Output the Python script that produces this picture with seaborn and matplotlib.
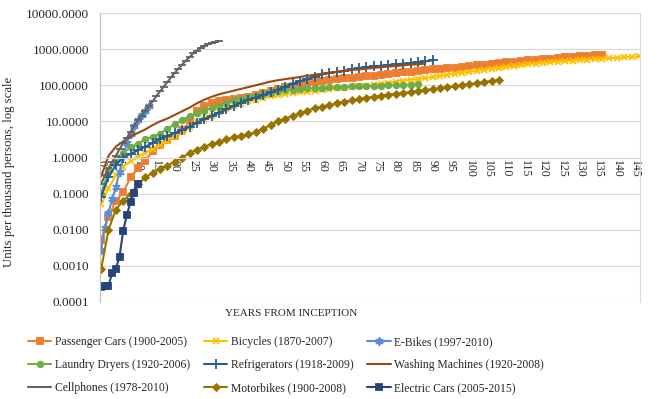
import numpy as np
import matplotlib
matplotlib.use('Agg')
import matplotlib.pyplot as plt
import seaborn as sns
from matplotlib.ticker import FixedLocator, FuncFormatter, NullLocator

# values (units per thousand persons)
# long series sampled every 2 years, short ones every year
cars = [0.0052, 0.023, 0.063, 0.11, 0.28, 0.5, 0.79, 1.48, 2.24, 3.0,
        4.0, 5.6, 10, 19, 26.3, 31.6, 35.5, 38, 40.7, 43.7,
        47.9, 53.7, 61.7, 70.8, 79.4, 89.1, 97.7, 107, 115, 123,
        132, 141, 148, 155, 162, 170, 178, 186, 195, 204,
        219, 229, 240, 251, 263, 275, 288, 295, 309, 324,
        339, 355, 372, 389, 407, 427, 447, 468, 490, 513,
        525, 550, 562, 589, 603, 631, 661, 676, 692]
bicycles = [0.05, 0.14, 0.32, 0.56, 0.79, 1.05, 1.35, 1.74, 2.24, 2.95,
            4.0, 5.2, 7.1, 9.5, 11.7, 14.5, 17.8, 21.9, 26.3, 30.2,
            35.5, 39.8, 44.7, 49, 52.5, 56.2, 60.3, 63.1, 66.1, 70.8,
            74.1, 77.6, 81.3, 85.1, 89.1, 93.3, 97.7, 102, 110, 117,
            126, 135, 141, 148, 158, 170, 182, 195, 209, 224,
            234, 251, 269, 282, 302, 316, 331, 355, 380, 398,
            417, 437, 447, 468, 479, 501, 513, 525, 537, 562,
            575, 589, 617, 631]
ebikes = [0.0028, 0.011, 0.03, 0.07, 0.15, 0.4, 1.1, 2.6, 4.5, 7.5,
          11, 15, 20, 26]
dryers = [0.1, 0.42, 0.85, 1.35, 1.9, 2.4, 3.2, 3.8, 4.6, 6.3,
          8.3, 11, 13.8, 16.6, 20, 23.4, 27.5, 32.4, 38, 42.7,
          46.8, 51.3, 56.2, 61.7, 67.6, 72.4, 75.9, 77.6, 81.3, 83.2,
          85.1, 87.1, 89.1, 91.2, 93.3, 93.3, 95.5, 95.5, 97.7, 100,
          100, 102, 102, 105]
fridges = [0.083, 0.28, 0.63, 1.0, 1.26, 1.58, 2.0, 2.5, 3.2, 4.0,
           4.8, 5.8, 7.1, 9.1, 11.5, 14.1, 17.4, 21.4, 26.9, 33.1,
           39.8, 45.7, 52.5, 63.1, 75.9, 91.2, 110, 129, 151, 174,
           200, 219, 234, 251, 275, 295, 316, 331, 347, 363,
           380, 398, 417, 427, 457, 490]
washers = [0.3, 1.1, 2.0, 2.8, 3.8, 4.8, 6.0, 7.9, 10, 12,
           15.1, 19.1, 24, 31.6, 39.8, 47.9, 56.2, 63.1, 70.8, 79.4,
           89.1, 100, 112, 126, 138, 148, 158, 170, 182, 195,
           209, 224, 234, 251, 263, 275, 288, 302, 316, 331,
           339, 355, 372, 380, 398]
cellphones = [0.18, 0.32, 0.5, 0.76, 1.1, 1.7, 2.5, 3.5, 5.2, 7.6,
              10.7, 14.5, 20, 27, 36, 50, 68, 91, 123, 166,
              219, 288, 372, 479, 603, 759, 912, 1072, 1230, 1349,
              1479, 1585, 1698]
motorbikes = [0.0008, 0.01, 0.036, 0.063, 0.1, 0.18, 0.28, 0.38, 0.48, 0.6,
              0.76, 1.0, 1.32, 1.66, 2.0, 2.34, 2.7, 3.16, 3.63, 3.98,
              4.37, 5.0, 6.3, 7.9, 10, 12, 14.1, 16.6, 20, 22.9,
              25.7, 28.2, 31.6, 34.7, 38, 41.7, 44.7, 47.9, 51.3, 55,
              58.9, 61.7, 64.6, 69.2, 74.1, 77.6, 83.2, 89.1, 93.3, 100,
              107, 115, 123, 132, 138]
ecars = [0.00026, 0.00027, 0.00028, 0.00064, 0.00083, 0.0018, 0.0094, 0.026,
         0.060, 0.107, 0.19]

labels = ['Passenger Cars (1900-2005)', 'Bicycles (1870-2007)', 'E-Bikes (1997-2010)',
          'Laundry Dryers (1920-2006)', 'Refrigerators (1918-2009)',
          'Washing Machines (1920-2008)', 'Cellphones (1978-2010)',
          'Motorbikes (1900-2008)', 'Electric Cars (2005-2015)']
x_ticks = list(range(0, 150, 5))

# (values, year step, color, marker, marker size)
series = [
    (cars, 2, '#ED7D31', 's', 4),
    (bicycles, 2, '#FFC000', 'x', 4.5),
    (ebikes, 1, '#5B8FD5', (6, 2, 0), 6),
    (dryers, 2, '#70AD47', 'o', 4),
    (fridges, 2, '#255E91', '+', 6.5),
    (washers, 2, '#9E480E', None, 0),
    (cellphones, 1, '#636363', '_', 5.5),
    (motorbikes, 2, '#997300', 'D', 3.4),
    (ecars, 1, '#264478', 's', 5),
]

sns.set_style('white')
plt.rcParams['font.family'] = ['Liberation Serif', 'DejaVu Serif']

fig = plt.figure(figsize=(6.62, 3.99), dpi=100)
ax = fig.add_axes([100 / 662, 1 - 302 / 399, 540 / 662, 289 / 399])

for (vals, step, col, mk, ms), lab in zip(series, labels):
    yrs = np.arange(len(vals)) * step
    kw = dict(color=col, linewidth=1.5, label=lab)
    if mk is not None:
        kw.update(marker=mk, markersize=ms, markeredgecolor=col,
                  markerfacecolor=col, markeredgewidth=1.3)
    sns.lineplot(x=yrs, y=vals, ax=ax, **kw)

ax.set_yscale('log')
ax.set_ylim(1e-4, 1e4)
ax.set_xlim(-0.3, 146.3)
ax.yaxis.set_major_locator(FixedLocator([10.0 ** k for k in range(-4, 5)]))
ax.yaxis.set_minor_locator(NullLocator())
ax.yaxis.set_major_formatter(FuncFormatter(lambda v, p: f'{v:.4f}'))
ax.tick_params(axis='y', length=0, pad=8, labelsize=9.5)

ax.set_xticks(x_ticks)
ax.set_xticklabels([str(t) for t in x_ticks])
ax.tick_params(axis='x', direction='in', length=4, color='#D9D9D9',
               labelsize=8.5, pad=2, labelrotation=270)
for lbl in ax.get_xticklabels():
    lbl.set_verticalalignment('top')
    lbl.set_horizontalalignment('center')

ax.grid(axis='y', color='#D9D9D9', linewidth=0.9)
ax.grid(axis='x', visible=False)
ax.spines['bottom'].set_position(('data', 1))
ax.spines['bottom'].set_color('#D9D9D9')
ax.spines['left'].set_color('#BFBFBF')
ax.spines['right'].set_color('#D9D9D9')
ax.spines['top'].set_visible(False)

ax.set_ylabel('Units per thousand persons, log scale', fontsize=9.2)
ax.yaxis.set_label_coords(-85 / 540, 1 - (172 - 13) / 289)
ax.set_xlabel('')
fig.text(291 / 662, 1 - 314 / 399, 'YEARS FROM INCEPTION', ha='center',
         va='center', fontsize=8)

handles, labs = ax.get_legend_handles_labels()
ax.get_legend().remove()
order = [0, 3, 6, 1, 4, 7, 2, 5, 8]
fig.legend([handles[i] for i in order], [labs[i] for i in order],
           loc='upper left', bbox_to_anchor=(28 / 662, 1 - 336 / 399),
           ncol=3, frameon=False, fontsize=8.4, handlelength=2.0,
           handletextpad=0.3, columnspacing=1.2, labelspacing=0.95,
           borderaxespad=0, borderpad=0)

fig.savefig('out.png', dpi=100)
